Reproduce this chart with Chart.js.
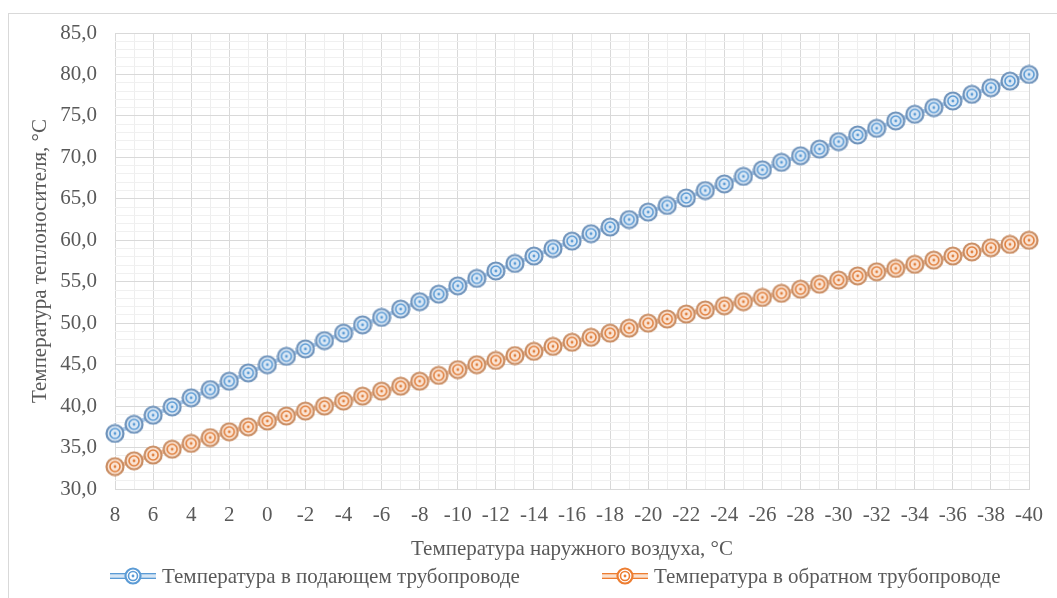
<!DOCTYPE html>
<html>
<head>
<meta charset="utf-8">
<script src="https://cdn.jsdelivr.net/npm/chart.js@4.4.0/dist/chart.umd.min.js"></script>
<style>
  html, body { margin: 0; padding: 0; background: #fff; }
  #wrap { position: relative; width: 1057px; height: 598px; overflow: hidden; }
  #frame { position: absolute; left: 8px; top: 13px; width: 1100px; height: 700px;
           border-left: 1px solid #d9d9d9; border-top: 1px solid #d9d9d9; }
  #chart { position: absolute; left: 0; top: 0; }
</style>
</head>
<body>
<div id="wrap">
  <div id="frame"></div>
  <canvas id="chart" width="1057" height="598"></canvas>
</div>
<script>
// outdoor air temperature, °C (category axis)
const outdoorTemps = [8, 7, 6, 5, 4, 3, 2, 1, 0, -1, -2, -3, -4, -5, -6, -7, -8, -9, -10,
  -11, -12, -13, -14, -15, -16, -17, -18, -19, -20, -21, -22, -23, -24, -25, -26, -27, -28, -29, -30,
  -31, -32, -33, -34, -35, -36, -37, -38, -39, -40];

// supply pipe temperature, °C
const supplyTemps = [36.7, 37.8, 38.9, 39.9, 41.0, 42.0, 43.0, 44.0, 45.0, 46.0, 46.9, 47.9, 48.8, 49.8, 50.7, 51.7, 52.6, 53.5, 54.5,
  55.4, 56.3, 57.2, 58.1, 59.0, 59.9, 60.8, 61.6, 62.5, 63.4, 64.2, 65.1, 66.0, 66.8, 67.7, 68.5, 69.4, 70.2, 71.0, 71.9,
  72.7, 73.5, 74.4, 75.2, 76.0, 76.8, 77.6, 78.4, 79.2, 80.0];

// return pipe temperature, °C
const returnTemps = [32.7, 33.4, 34.1, 34.8, 35.5, 36.2, 36.9, 37.5, 38.2, 38.8, 39.4, 40.0, 40.6, 41.2, 41.8, 42.4, 43.0, 43.7, 44.4,
  45.0, 45.5, 46.1, 46.6, 47.2, 47.7, 48.3, 48.8, 49.4, 50.0, 50.5, 51.1, 51.6, 52.1, 52.6, 53.1, 53.6, 54.1, 54.7, 55.2,
  55.7, 56.2, 56.6, 57.1, 57.6, 58.1, 58.6, 59.1, 59.5, 60.0];

const seriesNames = ['Температура в подающем трубопроводе', 'Температура в обратном трубопроводе'];
const xTitle = 'Температура наружного воздуха, °С';
const yTitle = 'Температура теплоносителя, °С';

const FONT = '"Liberation Serif", "Times New Roman", serif';
const FSIZE = 21;
const TEXT = '#595959';

// Excel-like double ring marker
function ringMarker(size, outer, fill, inner) {
  const c = document.createElement('canvas');
  c.width = size; c.height = size;
  const g = c.getContext('2d');
  const m = size / 2;
  g.beginPath(); g.arc(m, m, m - 1.5, 0, Math.PI * 2);
  g.fillStyle = fill; g.fill();
  g.lineWidth = 2.2; g.strokeStyle = outer; g.stroke();
  g.beginPath(); g.arc(m, m, m * 0.5, 0, Math.PI * 2);
  g.lineWidth = 1.6; g.strokeStyle = inner; g.stroke();
  g.beginPath(); g.arc(m, m, 1.4, 0, Math.PI * 2);
  g.fillStyle = inner; g.fill();
  return c;
}

function legendIcon(line, light, marker) {
  const c = document.createElement('canvas');
  c.width = 46; c.height = 20;
  const g = c.getContext('2d');
  g.fillStyle = light; g.fillRect(0, 8, 46, 4);
  g.fillStyle = line; g.fillRect(0, 7, 46, 1.3); g.fillRect(0, 11.7, 46, 1.3);
  g.drawImage(marker, 23 - marker.width / 2, 10 - marker.height / 2);
  return c;
}

const blueMarker = ringMarker(20, '#6f93bb', '#dbe8f5', '#5b9bd5');
const orangeMarker = ringMarker(20, '#c98d63', '#fbe4d4', '#e07f3c');
const legendIcons = [
  legendIcon('#5b9bd5', '#d6e6f5', ringMarker(18, '#5b9bd5', '#ffffff', '#5b9bd5')),
  legendIcon('#ed7d31', '#fbe1cf', ringMarker(18, '#ed7d31', '#ffffff', '#ed7d31'))
];

const bottomLegend = {
  id: 'bottomLegend',
  afterDraw(chart) {
    const ctx = chart.ctx;
    const starts = [110, 602];
    const y = 576;
    ctx.save();
    ctx.font = FSIZE + 'px ' + FONT;
    ctx.fillStyle = TEXT;
    ctx.textBaseline = 'middle';
    chart.data.datasets.forEach((ds, i) => {
      ctx.drawImage(legendIcons[i], starts[i], y - 10);
      ctx.fillText(ds.label, starts[i] + 52, y + 1);
    });
    ctx.restore();
  }
};

new Chart(document.getElementById('chart'), {
  type: 'line',
  data: {
    labels: outdoorTemps.map(String),
    datasets: [
      {
        label: seriesNames[0],
        data: supplyTemps,
        borderColor: '#a9c9ea',
        borderWidth: 4,
        pointStyle: blueMarker,
        pointRadius: 10,
        tension: 0
      },
      {
        label: seriesNames[1],
        data: returnTemps,
        borderColor: '#f3c1a0',
        borderWidth: 4,
        pointStyle: orangeMarker,
        pointRadius: 10,
        tension: 0
      }
    ]
  },
  options: {
    responsive: false,
    animation: false,
    events: [],
    layout: { padding: { left: 0, top: 33, right: 24, bottom: 34 } },
    plugins: { legend: { display: false }, tooltip: { enabled: false } },
    scales: {
      x: {
        offset: false,
        grid: {
          drawTicks: false,
          color: ctx => (ctx.index % 2 === 0 ? '#d9d9d9' : '#eeeeee')
        },
        border: { color: '#d9d9d9' },
        ticks: {
          autoSkip: false,
          maxRotation: 0,
          padding: 14,
          color: TEXT,
          font: { family: FONT, size: FSIZE },
          callback: (v, i) => (i % 2 === 0 ? outdoorTemps[i] : '')
        },
        title: {
          display: true, text: xTitle, color: TEXT,
          font: { family: FONT, size: FSIZE }, padding: { top: 0, bottom: 2 }
        },
        afterFit: s => { s.height = 75; }
      },
      y: {
        min: 30, max: 85,
        grid: {
          drawTicks: false,
          color: ctx => (ctx.tick && ctx.tick.value % 5 === 0 ? '#d9d9d9' : '#f0f0f0')
        },
        border: { display: false },
        ticks: {
          stepSize: 1,
          autoSkip: false,
          maxTicksLimit: 100,
          padding: 18,
          color: TEXT,
          font: { family: FONT, size: FSIZE },
          callback: v => (v % 5 === 0 ? v.toFixed(1).replace('.', ',') : '')
        },
        title: {
          display: true, text: yTitle, color: TEXT,
          font: { family: FONT, size: FSIZE }, padding: { top: 28, bottom: 0 }
        },
        afterFit: s => { s.width = 115; }
      }
    }
  },
  plugins: [bottomLegend]
});
</script>
</body>
</html>
